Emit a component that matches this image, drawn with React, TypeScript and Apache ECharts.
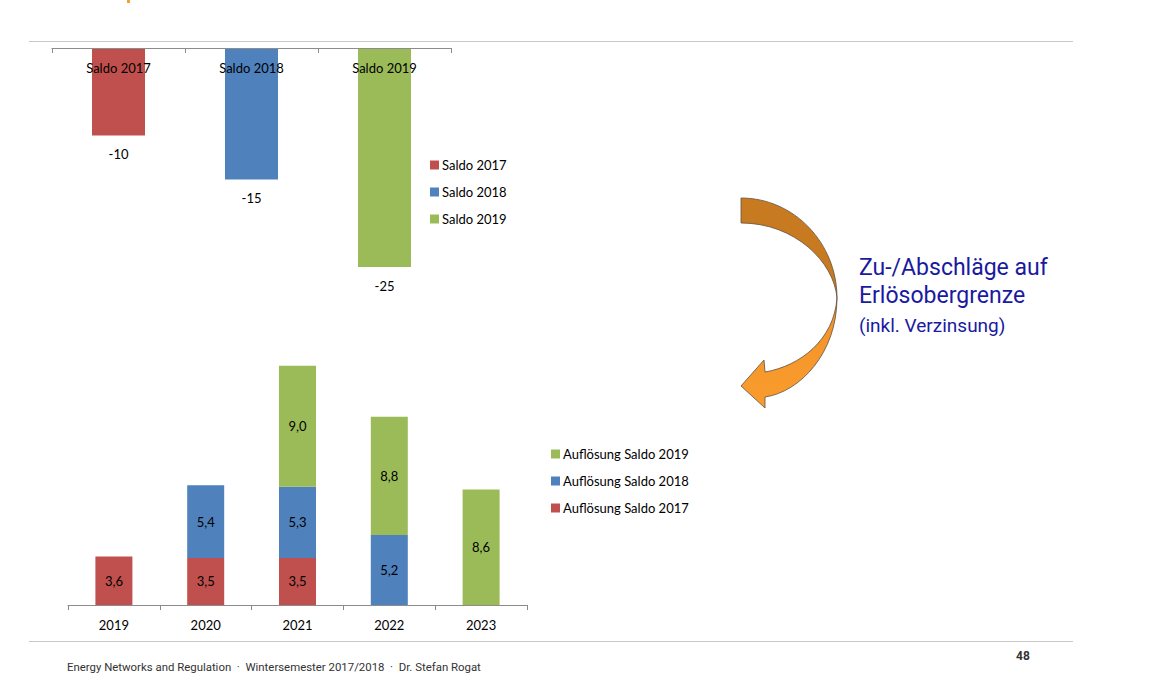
import React, { useEffect, useRef } from "react";
import * as echarts from "echarts";

const topCategories = ["Saldo 2017", "Saldo 2018", "Saldo 2019"];
const saldo2017 = [-10, "-", "-"];
const saldo2018 = ["-", -15, "-"];
const saldo2019 = ["-", "-", -25];

const years = ["2019", "2020", "2021", "2022", "2023"];
const aufl2017 = [3.6, 3.5, 3.5, "-", "-"];
const aufl2018 = ["-", 5.4, 5.3, 5.2, "-"];
const aufl2019 = ["-", "-", 9.0, 8.8, 8.6];

const RED = "#C0504D";
const BLUE = "#4F81BD";
const GREEN = "#9BBB59";
const FONT = "Lato";

const ARROW_TOP =
  "M741 198 C794 198 837 243 837 298 C834 262 795 223 741 223 Z";
const ARROW_BOTTOM =
  "M837 298 C837 353 800 392 765 397 L765 408 L741 386 L764 360 L765 372 C800 366 834 340 837 298 Z";

let registered = false;
function registerShapes() {
  if (registered) return;
  echarts.graphic.registerShape("arrowTop", echarts.graphic.extendPath(ARROW_TOP, {}) as any);
  echarts.graphic.registerShape("arrowBottom", echarts.graphic.extendPath(ARROW_BOTTOM, {}) as any);
  registered = true;
}

const fmt = (p: any) => Number(p.value).toFixed(1).replace(".", ",");

export default function App() {
  const ref = useRef<HTMLDivElement>(null);
  useEffect(() => {
    if (!ref.current) return;
    registerShapes();
    const chart = echarts.init(ref.current, null, { renderer: "svg" });
    const topLabel = {
      show: true,
      position: "bottom",
      distance: 12,
      color: "#000",
      fontFamily: FONT,
      fontSize: 13,
    };
    const botLabel = {
      show: true,
      position: "inside",
      color: "#000",
      fontFamily: FONT,
      fontSize: 13,
      formatter: fmt,
    };
    const legendText = { color: "#000", fontFamily: FONT, fontSize: 13, lineHeight: 14, padding: [0, 0, 0, -2] };
    chart.setOption({
      animation: false,
      backgroundColor: "#fff",
      grid: [
        { left: 52, top: 48, width: 399, height: 219 },
        { left: 68, top: 363, width: 459, height: 242 },
      ],
      xAxis: [
        {
          gridIndex: 0,
          type: "category",
          position: "top",
          data: topCategories,
          axisLine: { lineStyle: { color: "#8c8c8c", width: 1 } },
          axisTick: { show: true, inside: true, length: 5, lineStyle: { color: "#8c8c8c", width: 1 } },
          axisLabel: {
            inside: true,
            margin: 13,
            color: "#000",
            fontFamily: FONT,
            fontSize: 13,
          },
          z: 10,
        },
        {
          gridIndex: 1,
          type: "category",
          data: years,
          axisLine: { lineStyle: { color: "#8c8c8c", width: 1 } },
          axisTick: { show: true, length: 5, lineStyle: { color: "#8c8c8c", width: 1 } },
          axisLabel: {
            margin: 13,
            color: "#000",
            fontFamily: FONT,
            fontSize: 13,
          },
        },
      ],
      yAxis: [
        { gridIndex: 0, type: "value", min: -25, max: 0, show: false },
        { gridIndex: 1, type: "value", min: 0, max: 18, show: false },
      ],
      legend: [
        {
          data: ["Saldo 2017", "Saldo 2018", "Saldo 2019"],
          orient: "vertical",
          left: 425,
          top: 153,
          icon: "rect",
          itemWidth: 9,
          itemHeight: 9,
          itemGap: 13,
          textStyle: legendText,
        },
        {
          data: ["Auflösung Saldo 2019", "Auflösung Saldo 2018", "Auflösung Saldo 2017"],
          orient: "vertical",
          left: 546,
          top: 442,
          icon: "rect",
          itemWidth: 9,
          itemHeight: 9,
          itemGap: 13,
          textStyle: legendText,
        },
      ],
      series: [
        { name: "Saldo 2017", type: "bar", xAxisIndex: 0, yAxisIndex: 0, stack: "top", barWidth: 53, data: saldo2017, itemStyle: { color: RED }, label: topLabel },
        { name: "Saldo 2018", type: "bar", xAxisIndex: 0, yAxisIndex: 0, stack: "top", barWidth: 53, data: saldo2018, itemStyle: { color: BLUE }, label: topLabel },
        { name: "Saldo 2019", type: "bar", xAxisIndex: 0, yAxisIndex: 0, stack: "top", barWidth: 53, data: saldo2019, itemStyle: { color: GREEN }, label: topLabel },
        { name: "Auflösung Saldo 2017", type: "bar", xAxisIndex: 1, yAxisIndex: 1, stack: "bot", barWidth: 37, data: aufl2017, itemStyle: { color: RED }, label: botLabel },
        { name: "Auflösung Saldo 2018", type: "bar", xAxisIndex: 1, yAxisIndex: 1, stack: "bot", barWidth: 37, data: aufl2018, itemStyle: { color: BLUE }, label: botLabel },
        { name: "Auflösung Saldo 2019", type: "bar", xAxisIndex: 1, yAxisIndex: 1, stack: "bot", barWidth: 37, data: aufl2019, itemStyle: { color: GREEN }, label: botLabel },
      ],
      graphic: [
        { type: "rect", shape: { x: 127, y: 0, width: 3, height: 3 }, style: { fill: "#F7A030" } },
        { type: "line", shape: { x1: 29, y1: 41.5, x2: 1073, y2: 41.5 }, style: { stroke: "#c8c8c8", lineWidth: 1 } },
        { type: "line", shape: { x1: 29, y1: 641.5, x2: 1073, y2: 641.5 }, style: { stroke: "#c8c8c8", lineWidth: 1 } },
        {
          type: "arrowTop",
          x: 0,
          y: 0,
          style: { fill: "#C87A20", stroke: "#5e5040", lineWidth: 0.8 },
        },
        {
          type: "arrowBottom",
          x: 0,
          y: 0,
          style: {
            fill: new echarts.graphic.LinearGradient(0, 0, 0, 1, [
              { offset: 0, color: "#F0922A" },
              { offset: 1, color: "#FA9C2C" },
            ]),
            stroke: "#5e5040",
            lineWidth: 0.8,
          },
        },
        {
          type: "text",
          x: 859,
          y: 267,
          style: { text: "Zu-/Abschläge auf", fill: "#1A1AA0", font: "23px Roboto", verticalAlign: "middle" },
        },
        {
          type: "text",
          x: 859,
          y: 295,
          style: { text: "Erlösobergrenze", fill: "#1A1AA0", font: "23px Roboto", verticalAlign: "middle" },
        },
        {
          type: "text",
          x: 859,
          y: 325,
          style: { text: "(inkl. Verzinsung)", fill: "#1A1AA0", font: "19px Roboto", verticalAlign: "middle" },
        },
        {
          type: "text",
          x: 67,
          y: 667,
          style: {
            text: "Energy Networks and Regulation  ·  Wintersemester 2017/2018  ·  Dr. Stefan Rogat",
            fill: "#333",
            font: "11.4px Roboto",
            verticalAlign: "middle",
          },
        },
        {
          type: "text",
          x: 1016,
          y: 656,
          style: { text: "48", fill: "#333", font: "bold 12px Roboto", verticalAlign: "middle" },
        },
      ],
    });
    return () => chart.dispose();
  }, []);
  return (
    <div
      ref={ref}
      style={{ position: "fixed", left: 0, top: 0, width: 1150, height: 692 }}
    />
  );
}
